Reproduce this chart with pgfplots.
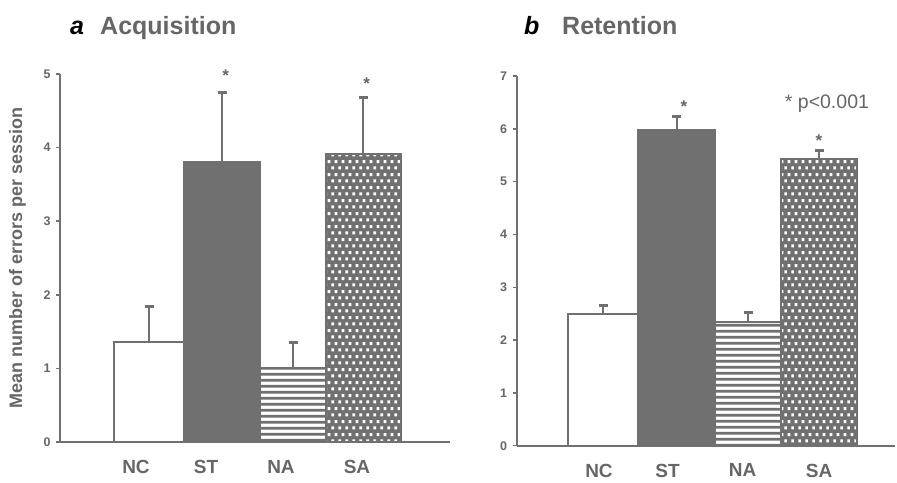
\documentclass[border=0pt]{standalone}
\usepackage{fontspec}
\setmainfont{Liberation Sans}
\usepackage{pgfplots}
\pgfplotsset{compat=1.18}
\usetikzlibrary{patterns.meta}
\definecolor{barGray}{RGB}{112,112,112}
\definecolor{txtGray}{RGB}{102,102,102}

\tikzdeclarepattern{
  name=mylines, type=uncolored,
  bottom left={(0pt,0pt)}, top right={(5.7pt,5.7pt)},
  tile size={(5.7pt,5.7pt)},
  code={\draw[line width=3pt] (-1pt,2.85pt) -- (6.7pt,2.85pt);}
}
\tikzdeclarepattern{
  name=mydots, type=uncolored,
  bottom left={(0pt,0pt)}, top right={(7.2pt,12.8pt)},
  tile size={(7.2pt,12.8pt)},
  code={\fill (0.3pt,1.7pt) rectangle (3.3pt,4.7pt); \fill (3.9pt,8.1pt) rectangle (6.9pt,11.1pt);}
}

\tikzset{starnode/.style={font=\fontsize{17}{19}\selectfont\bfseries, text=txtGray, inner sep=0pt, yshift=-3.5pt}}

\pgfplotsset{
  myaxis/.style={
    scale only axis, anchor=south west,
    axis x line=bottom, axis y line=left,
    axis line style={-, barGray, line width=2pt},
    ymin=0, clip=false,
    xtick style={draw=none},
    ytick style={barGray, line width=1.5pt},
    major tick length=4pt, tick align=outside,
    /pgf/number format/assume math mode=true,
    yticklabel style={font=\fontsize{12.5}{14}\selectfont\bfseries, text=txtGray, xshift=-2pt},
    xticklabel style={font=\fontsize{19}{22}\selectfont\bfseries, text=txtGray},
  },
  mybar/.style={ybar, bar shift=0pt, draw=barGray, line width=2pt, mark=none,
    error bars/y dir=plus, error bars/y explicit,
    error bars/error bar style={line width=2pt, barGray},
    error bars/error mark options={barGray, line width=3pt, mark size=4.5pt, rotate=90}},
}

\begin{document}
\begin{tikzpicture}[x=1pt,y=1pt]
\useasboundingbox (0,0) rectangle (897,482);

% ---------- panel a ----------
\node[anchor=base west, inner sep=0pt, font=\fontsize{25}{28}\selectfont\bfseries\itshape] at (70,447) {a};
\node[anchor=base west, inner sep=0pt, font=\fontsize{25}{28}\selectfont\bfseries, text=txtGray] at (100,447) {Acquisition};

\begin{axis}[myaxis, at={(60pt,40pt)}, width=390pt, height=368pt,
  xmin=-0.245, xmax=5.21, ymax=5, ytick={0,1,2,3,4,5},
  xtick={0.818,1.797,2.846,3.909}, xticklabels={NC,ST,NA,SA},
  xticklabel style={yshift=-11pt},
  ylabel={Mean number of errors per session},
  ylabel style={at={(axis description cs:-0.109,0.5)}, anchor=center,
    font=\fontsize{18}{20}\selectfont\bfseries, text=txtGray}]
\addplot[mybar, fill=white, bar width=70pt] coordinates {(1,1.36) +- (0,0.48)};
\addplot[mybar, fill=barGray, bar width=76pt] coordinates {(2.021,3.81) +- (0,0.94)};
\addplot[mybar, pattern=mylines, pattern color=barGray, bar width=66pt] coordinates {(3.014,1.00) +- (0,0.35)};
\addplot[mybar, fill=barGray, postaction={pattern=mydots, pattern color=white}, bar width=75pt] coordinates {(4.0,3.91) +- (0,0.77)};
\node[starnode] at (axis cs:2.073,5.03) {*};
\node[starnode] at (axis cs:4.045,4.92) {*};
\end{axis}

% ---------- panel b ----------
\node[anchor=base west, inner sep=0pt, font=\fontsize{25}{28}\selectfont\bfseries\itshape] at (524,447) {b};
\node[anchor=base west, inner sep=0pt, font=\fontsize{25}{28}\selectfont\bfseries, text=txtGray] at (562,447) {Retention};

\begin{axis}[myaxis, at={(516.7pt,36.3pt)}, width=378pt, height=369.7pt,
  xmin=-0.199, xmax=5.051, ymax=7, ytick={0,1,2,3,4,5,6,7},
  xtick={0.944,1.896,2.938,4.0}, xticklabels={NC,ST,NA,SA},
  xticklabel style={yshift=-10.5pt}]
\addplot[mybar, fill=white, bar width=70pt] coordinates {(1,2.49) +- (0,0.16)};
\addplot[mybar, fill=barGray, bar width=77pt] coordinates {(2.021,5.97) +- (0,0.27)};
\addplot[mybar, pattern=mylines, pattern color=barGray, bar width=66pt] coordinates {(3.014,2.34) +- (0,0.18)};
\addplot[mybar, fill=barGray, postaction={pattern=mydots, pattern color=white}, bar width=76pt] coordinates {(4.0,5.42) +- (0,0.17)};
\node[starnode] at (axis cs:2.125,6.485) {*};
\node[starnode] at (axis cs:4.0,5.85) {*};
\node[anchor=base, inner sep=0pt, font=\fontsize{19.5}{22}\selectfont, text=txtGray] at (axis cs:4.11,6.38) {* p<0.001};
\end{axis}
\end{tikzpicture}
\end{document}
